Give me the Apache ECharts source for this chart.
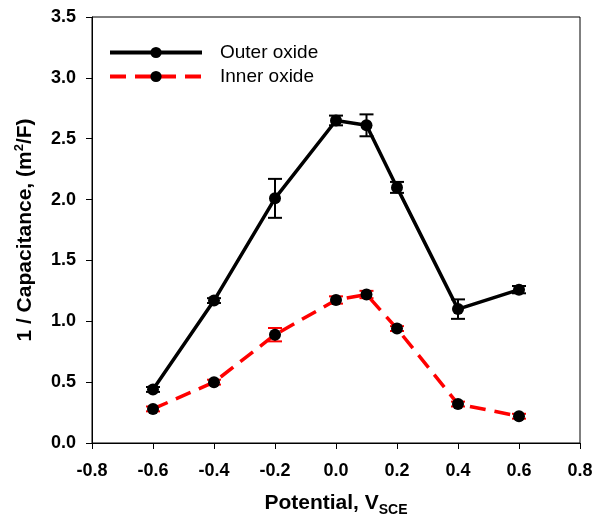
<!DOCTYPE html>
<html>
<head>
<meta charset="utf-8">
<script src="https://cdn.jsdelivr.net/npm/echarts@6/dist/echarts.min.js"></script>
<style>html,body{margin:0;padding:0;background:#fff}#c{width:595px;height:517px}</style>
</head>
<body>
<div id="c"></div>
<script>
const potentials = [-0.6, -0.4, -0.2, 0.0, 0.1, 0.2, 0.4, 0.6];
const outerValues = [0.44, 1.17, 2.01, 2.65, 2.61, 2.10, 1.10, 1.26];
const outerErrors = [0.02, 0.02, 0.16, 0.04, 0.09, 0.045, 0.08, 0.03];
const innerValues = [0.28, 0.50, 0.89, 1.175, 1.22, 0.94, 0.32, 0.22];
const innerErrors = [0.02, 0.02, 0.055, 0.03, 0.03, 0.02, 0.02, 0.02];
const xTicks = [-0.8, -0.6, -0.4, -0.2, 0.0, 0.2, 0.4, 0.6, 0.8];
const yTicks = [0.0, 0.5, 1.0, 1.5, 2.0, 2.5, 3.0, 3.5];

const FONT = '"Liberation Sans", Arial, sans-serif';

function pairs(xs, ys) { return xs.map((x, i) => [x, ys[i]]); }
function errData(xs, ys, es) { return xs.map((x, i) => [x, ys[i] - es[i], ys[i] + es[i]]); }

function errRender(color) {
  return function (params, api) {
    const x = api.value(0);
    const lo = api.coord([x, api.value(1)]);
    const hi = api.coord([x, api.value(2)]);
    const hw = 7;
    const style = { stroke: color, lineWidth: 2 };
    return {
      type: 'group',
      children: [
        { type: 'line', shape: { x1: lo[0], y1: lo[1], x2: hi[0], y2: hi[1] }, style },
        { type: 'line', shape: { x1: lo[0] - hw, y1: lo[1], x2: lo[0] + hw, y2: lo[1] }, style },
        { type: 'line', shape: { x1: hi[0] - hw, y1: hi[1], x2: hi[0] + hw, y2: hi[1] }, style }
      ]
    };
  };
}

const chart = echarts.init(document.getElementById('c'), null, { renderer: 'canvas' });
chart.setOption({
  animation: false,
  backgroundColor: '#fff',
  textStyle: { fontFamily: FONT },
  grid: { left: 92, right: 15, top: 17, bottom: 74, show: true, borderColor: '#000', borderWidth: 1,
    outerBoundsMode: 'none', containLabel: false },
  legend: {
    left: 108, top: 42, orient: 'vertical', padding: 0,
    itemWidth: 92, itemHeight: 14, itemGap: 3,
    data: ['Outer oxide', 'Inner oxide'],
    lineStyle: { width: 4 },
    textStyle: { fontSize: 19, lineHeight: 21, color: '#000', fontFamily: FONT, padding: [0, 0, 0, 13] }
  },
  xAxis: {
    type: 'value', min: xTicks[0], max: xTicks[xTicks.length - 1], interval: 0.2,
    name: 'Potential, V{sub|SCE}', nameLocation: 'middle', nameGap: 47,
    nameTextStyle: {
      fontSize: 21, fontWeight: 'bold', color: '#000', fontFamily: FONT,
      rich: { sub: { fontSize: 14, fontWeight: 'bold', color: '#000', fontFamily: FONT, padding: [13, 0, 0, 0] } }
    },
    axisLine: { show: true, onZero: false, lineStyle: { color: '#000', width: 1 } },
    axisTick: { show: true, inside: false, length: 6, lineStyle: { color: '#000' } },
    splitLine: { show: false },
    axisLabel: { fontSize: 18, fontWeight: 'bold', color: '#000', margin: 19, fontFamily: FONT,
      formatter: v => v.toFixed(1) }
  },
  yAxis: {
    type: 'value', min: yTicks[0], max: yTicks[yTicks.length - 1], interval: 0.5,
    name: '1 / Capacitance, (m{sup|2}/F)', nameLocation: 'middle', nameGap: 55,
    nameTextStyle: {
      fontSize: 21, fontWeight: 'bold', color: '#000', fontFamily: FONT,
      rich: { sup: { fontSize: 13, fontWeight: 'bold', color: '#000', fontFamily: FONT, padding: [0, 0, 11, 0] } }
    },
    axisLine: { show: true, onZero: false, lineStyle: { color: '#000', width: 1 } },
    axisTick: { show: true, inside: false, length: 6, lineStyle: { color: '#000' } },
    splitLine: { show: false },
    axisLabel: { fontSize: 18, fontWeight: 'bold', color: '#000', margin: 16, fontFamily: FONT,
      formatter: v => v.toFixed(1) }
  },
  series: [
    {
      name: 'Outer oxide', type: 'line', data: pairs(potentials, outerValues),
      symbol: 'circle', symbolSize: 12, z: 3,
      lineStyle: { color: '#000', width: 3.5 },
      itemStyle: { color: '#000' }
    },
    {
      name: 'Inner oxide', type: 'line', data: pairs(potentials, innerValues),
      symbol: 'circle', symbolSize: 12, z: 3,
      lineStyle: { color: '#ff0000', width: 3.5, type: [16, 9] },
      itemStyle: { color: '#000' }
    },
    {
      type: 'custom', data: errData(potentials, outerValues, outerErrors),
      renderItem: errRender('#000'), z: 2, silent: true
    },
    {
      type: 'custom', data: errData(potentials, innerValues, innerErrors),
      renderItem: errRender('#ff0000'), z: 2, silent: true
    }
  ]
});
</script>
</body>
</html>
